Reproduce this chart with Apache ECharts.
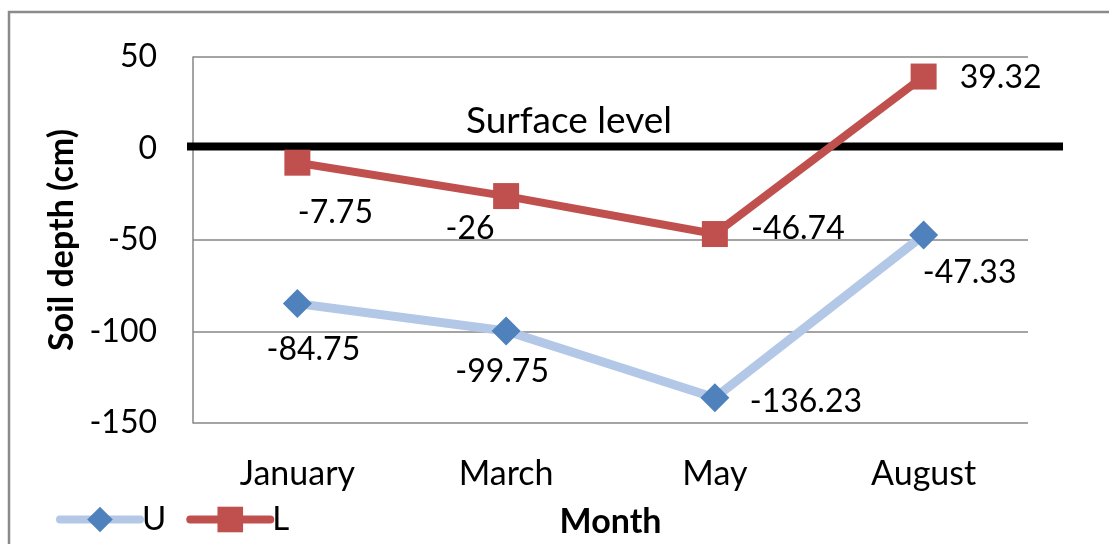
<!DOCTYPE html>
<html>
<head>
<meta charset="utf-8">
<script src="https://cdn.jsdelivr.net/npm/echarts@6/dist/echarts.min.js"></script>
<style>
  html, body { margin: 0; padding: 0; background: #ffffff; }
  #chart { width: 1109px; height: 544px; }
</style>
</head>
<body>
<div id="chart"></div>
<script>
// Soil depth readings per month for the two layers
const months = ['January', 'March', 'May', 'August'];
const depthU = [-84.75, -99.75, -136.23, -47.33];
const depthL = [-7.75, -26, -46.74, 39.32];

// Value axis range and step
const yMin = -150;
const yMax = 50;
const yStep = 50;

// Where each value label sits relative to its marker (px)
const labelShiftU = [[16, 46], [-4, 41], [91, 4], [46, 38]];
const labelShiftL = [[38, 50], [-36, 33], [83, -5], [77, 1]];

const FONT = 'Lato';
const GRID = { left: 193, top: 57, width: 835, height: 366 };

function labelled(values, shifts) {
  return values.map((v, i) => ({
    value: v,
    label: { offset: shifts[i] }
  }));
}

const chart = echarts.init(document.getElementById('chart'), null, { renderer: 'canvas' });

const baseLabel = {
  show: true,
  position: 'inside',
  color: '#000',
  fontFamily: FONT,
  fontSize: 32,
  formatter: p => String(p.value)
};

chart.setOption({
  animation: false,
  backgroundColor: '#ffffff',
  textStyle: { fontFamily: FONT },
  grid: Object.assign({ outerBoundsMode: 'none', containLabel: false }, GRID),
  legend: {
    left: 51,
    top: 498,
    itemWidth: 80,
    itemHeight: 32,
    itemGap: 20,
    textStyle: { fontFamily: FONT, fontSize: 33, color: '#000', padding: [0, 0, 0, -3] },
    data: [
      { name: 'U', lineStyle: { width: 8, cap: 'round' } },
      { name: 'L', lineStyle: { width: 8, cap: 'round' } }
    ]
  },
  xAxis: {
    type: 'category',
    data: months,
    boundaryGap: true,
    axisLine: { show: true, lineStyle: { color: '#868686', width: 1.5 } },
    axisTick: { show: false },
    axisLabel: { color: '#000', fontFamily: FONT, fontSize: 34, margin: 34 },
    name: 'Month',
    nameLocation: 'middle',
    nameGap: 82,
    nameTextStyle: { color: '#000', fontFamily: FONT, fontSize: 34, fontWeight: 'bold' }
  },
  yAxis: {
    type: 'value',
    min: yMin,
    max: yMax,
    interval: yStep,
    axisLine: { show: true, lineStyle: { color: '#868686', width: 1.5 } },
    axisTick: { show: false },
    splitLine: { show: true, lineStyle: { color: '#868686', width: 1.5 } },
    axisLabel: { color: '#000', fontFamily: FONT, fontSize: 32, margin: 36 },
    name: 'Soil depth (cm)',
    nameLocation: 'middle',
    nameGap: 110,
    nameTextStyle: { color: '#000', fontFamily: FONT, fontSize: 34, fontWeight: 'bold' }
  },
  series: [
    {
      name: 'U',
      type: 'line',
      data: labelled(depthU, labelShiftU),
      symbol: 'diamond',
      symbolSize: 29,
      lineStyle: { color: '#b3c7e6', width: 9 },
      itemStyle: { color: '#4f81bd' },
      label: baseLabel,
      z: 3
    },
    {
      name: 'L',
      type: 'line',
      data: labelled(depthL, labelShiftL),
      symbol: 'rect',
      symbolSize: 26,
      lineStyle: { color: '#c0504d', width: 8 },
      itemStyle: { color: '#c0504d' },
      label: baseLabel,
      z: 4
    }
  ]
});

// Ground surface line at zero depth, reaching a little past the plot area
const y0 = chart.convertToPixel({ yAxisIndex: 0 }, 0);
const gridRight = GRID.left + GRID.width;
chart.setOption({
  graphic: [
    {
      type: 'rect',
      shape: { x: 9, y: 12, width: 1200, height: 700 },
      style: { fill: 'none', stroke: '#8a8a8a', lineWidth: 2.5 },
      silent: true,
      z: 0
    },
    {
      type: 'line',
      shape: { x1: GRID.left - 6, y1: y0 - 2, x2: gridRight + 35, y2: y0 - 2 },
      style: { stroke: '#000', lineWidth: 8 },
      silent: true,
      z: 2
    },
    {
      type: 'text',
      x: 569,
      y: y0 - 27,
      style: {
        text: 'Surface level',
        fill: '#000',
        font: '37px ' + FONT,
        textAlign: 'center',
        textVerticalAlign: 'middle'
      },
      silent: true,
      z: 2
    }
  ]
});
</script>
</body>
</html>
